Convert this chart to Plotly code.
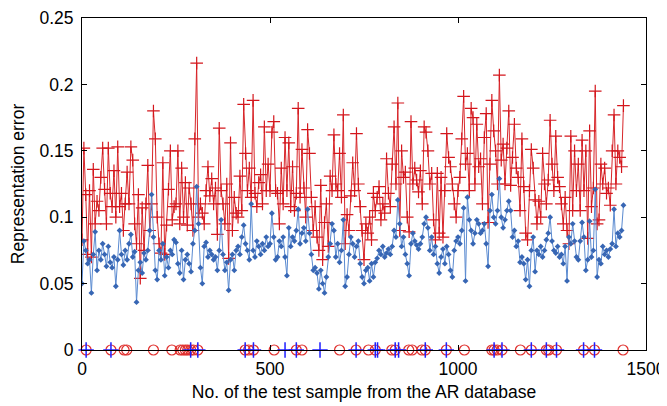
import plotly.graph_objects as go

# sample numbers (every 5th test sample)
sample_no = list(range(0, 1445, 5))

red_err = [
 0.083,0.152,0.117,0.072,0.120,0.070,0.136,0.095,0.112,0.105,
 0.130,0.152,0.121,0.095,0.152,0.118,0.108,0.135,0.100,0.153,
 0.108,0.118,0.090,0.110,0.134,0.110,0.153,0.143,0.095,0.080,
 0.117,0.054,0.107,0.075,0.110,0.139,0.090,0.110,0.180,0.159,
 0.100,0.080,0.073,0.141,0.072,0.094,0.121,0.150,0.098,0.108,
 0.110,0.150,0.095,0.137,0.100,0.126,0.094,0.122,0.110,0.090,
 0.159,0.216,0.100,0.110,0.103,0.095,0.120,0.138,0.116,0.129,
 0.110,0.122,0.087,0.167,0.120,0.110,0.095,0.125,0.069,0.156,
 0.090,0.115,0.103,0.100,0.131,0.105,0.185,0.148,0.120,0.137,
 0.115,0.188,0.118,0.108,0.126,0.132,0.110,0.168,0.120,0.140,
 0.120,0.164,0.172,0.120,0.118,0.095,0.137,0.110,0.160,0.120,
 0.156,0.108,0.138,0.105,0.118,0.182,0.115,0.151,0.122,0.100,
 0.166,0.148,0.115,0.090,0.108,0.085,0.075,0.124,0.068,0.096,
 0.110,0.078,0.131,0.120,0.162,0.125,0.120,0.148,0.115,0.177,
 0.080,0.102,0.090,0.116,0.141,0.120,0.163,0.125,0.108,0.090,
 0.068,0.095,0.088,0.100,0.083,0.118,0.105,0.115,0.123,0.098,
 0.110,0.103,0.144,0.118,0.108,0.140,0.168,0.125,0.186,0.090,
 0.150,0.130,0.134,0.100,0.089,0.172,0.125,0.137,0.128,0.119,
 0.135,0.110,0.168,0.164,0.150,0.125,0.133,0.098,0.083,0.133,
 0.088,0.130,0.085,0.120,0.163,0.145,0.138,0.125,0.110,0.100,
 0.120,0.130,0.159,0.191,0.140,0.148,0.120,0.182,0.175,0.125,
 0.170,0.138,0.144,0.110,0.160,0.178,0.096,0.140,0.188,0.165,
 0.150,0.125,0.207,0.143,0.155,0.125,0.152,0.180,0.124,0.145,
 0.170,0.137,0.130,0.105,0.159,0.123,0.088,0.083,0.120,0.151,
 0.137,0.113,0.095,0.112,0.100,0.148,0.125,0.110,0.128,0.173,
 0.140,0.120,0.161,0.130,0.123,0.110,0.095,0.115,0.090,0.080,
 0.161,0.105,0.150,0.120,0.140,0.105,0.158,0.120,0.150,0.084,
 0.165,0.108,0.122,0.195,0.095,0.098,0.140,0.125,0.137,0.118,
 0.122,0.109,0.150,0.177,0.125,0.150,0.145,0.138,0.184,
]

blue_err = [
 0.050,0.082,0.075,0.065,0.068,0.043,0.072,0.089,0.060,0.075,
 0.068,0.080,0.072,0.063,0.078,0.066,0.062,0.070,0.048,0.068,
 0.090,0.072,0.064,0.075,0.068,0.080,0.087,0.070,0.074,0.036,
 0.060,0.066,0.058,0.073,0.068,0.075,0.090,0.117,0.085,0.060,
 0.053,0.075,0.068,0.080,0.056,0.070,0.062,0.075,0.072,0.083,
 0.081,0.065,0.058,0.075,0.053,0.068,0.072,0.065,0.059,0.080,
 0.090,0.123,0.095,0.062,0.050,0.078,0.081,0.070,0.075,0.072,
 0.068,0.070,0.060,0.075,0.098,0.072,0.060,0.066,0.045,0.068,
 0.072,0.060,0.075,0.078,0.072,0.085,0.094,0.080,0.075,0.068,
 0.110,0.075,0.070,0.082,0.078,0.072,0.080,0.075,0.085,0.078,
 0.080,0.103,0.085,0.068,0.070,0.082,0.078,0.085,0.070,0.056,
 0.092,0.078,0.085,0.082,0.090,0.106,0.080,0.088,0.092,0.082,
 0.106,0.088,0.072,0.060,0.062,0.058,0.046,0.060,0.050,0.043,
 0.055,0.070,0.080,0.095,0.090,0.070,0.080,0.066,0.075,0.098,
 0.048,0.055,0.072,0.085,0.080,0.070,0.078,0.082,0.065,0.055,
 0.050,0.060,0.062,0.052,0.065,0.055,0.066,0.069,0.075,0.072,
 0.078,0.070,0.073,0.076,0.072,0.078,0.090,0.085,0.113,0.095,
 0.078,0.085,0.072,0.065,0.056,0.080,0.088,0.082,0.079,0.076,
 0.080,0.085,0.095,0.100,0.092,0.075,0.085,0.072,0.078,0.065,
 0.058,0.070,0.076,0.065,0.078,0.072,0.060,0.055,0.075,0.082,
 0.085,0.080,0.090,0.107,0.052,0.115,0.098,0.090,0.080,0.088,
 0.098,0.095,0.088,0.090,0.095,0.080,0.063,0.105,0.117,0.100,
 0.095,0.105,0.129,0.100,0.092,0.098,0.105,0.112,0.105,0.085,
 0.090,0.078,0.082,0.066,0.070,0.065,0.053,0.068,0.048,0.075,
 0.085,0.059,0.075,0.072,0.078,0.070,0.075,0.083,0.088,0.100,
 0.082,0.075,0.073,0.078,0.070,0.072,0.065,0.078,0.052,0.085,
 0.080,0.095,0.082,0.070,0.068,0.082,0.096,0.085,0.060,0.068,
 0.097,0.070,0.075,0.121,0.055,0.068,0.065,0.078,0.072,0.075,
 0.070,0.076,0.080,0.106,0.078,0.088,0.085,0.090,0.109,
]

# samples marked on the zero line
red_circle_samples = [11, 77, 112, 119, 190, 239, 261, 268, 275, 281, 289, 296, 308,
                      434, 443, 456, 511, 570, 585, 685, 729, 762, 780, 824, 833, 869,
                      878, 904, 913, 969, 1017, 1090, 1096, 1104, 1117, 1166, 1195,
                      1235, 1241, 1262, 1334, 1363, 1439]
blue_plus_samples = [11, 77, 289, 308, 434, 456, 540, 570, 633, 729, 780, 786, 833,
                     842, 913, 969, 1096, 1117, 1195, 1235, 1262, 1334, 1363]

x_ticks = [0, 500, 1000, 1500]
y_ticks = [0, 0.05, 0.1, 0.15, 0.2, 0.25]
y_tick_text = ["0", "0.05", "0.1", "0.15", "0.2", "0.25"]

FONT = "Liberation Sans, Arial, Helvetica, sans-serif"

fig = go.Figure()
fig.add_trace(go.Scatter(
    x=sample_no, y=red_err, mode="lines+markers",
    line=dict(color="#d8262a", width=1),
    marker=dict(symbol="cross-thin", size=9, color="#d4161c",
                line=dict(color="#d4161c", width=1.2)),
    showlegend=False))
fig.add_trace(go.Scatter(
    x=sample_no, y=blue_err, mode="lines+markers",
    line=dict(color="#5a8ad0", width=1),
    marker=dict(symbol="diamond", size=4.5, color="#3766b4"),
    showlegend=False))
fig.add_trace(go.Scatter(
    x=red_circle_samples, y=[0] * len(red_circle_samples), mode="markers",
    marker=dict(symbol="circle-open", size=10, color="#e0302e",
                line=dict(color="#e0302e", width=1.2)),
    cliponaxis=False, showlegend=False))
fig.add_trace(go.Scatter(
    x=blue_plus_samples, y=[0] * len(blue_plus_samples), mode="markers",
    marker=dict(symbol="cross-thin", size=11, color="#1f1fff",
                line=dict(color="#1f1fff", width=1.5)),
    cliponaxis=False, showlegend=False))

axis_common = dict(
    showline=True, linecolor="black", linewidth=1, mirror="ticks",
    ticks="inside", ticklen=5, tickcolor="black", tickwidth=1,
    showgrid=False, zeroline=False,
    tickfont=dict(family=FONT, size=17.5, color="black"),
)

fig.update_xaxes(range=[0, 1500], tickvals=x_ticks,
                 title=dict(text="No. of the test sample from the AR database",
                            font=dict(family=FONT, size=17.5, color="black"), standoff=7),
                 ticklabelstandoff=3, **axis_common)
fig.update_yaxes(range=[0, 0.25], tickvals=y_ticks, ticktext=y_tick_text,
                 title=dict(text="Representation error",
                            font=dict(family=FONT, size=17.5, color="black"), standoff=12),
                 ticklabelstandoff=4, **axis_common)

# the page body adds an 8 px offset, so the figure is sized/placed to compensate
fig.update_layout(
    width=659, height=398,
    margin=dict(l=74, r=21, t=10, b=56, autoexpand=False),
    plot_bgcolor="white", paper_bgcolor="white",
    font=dict(family=FONT, color="black"),
)

fig.write_html("out.html")
